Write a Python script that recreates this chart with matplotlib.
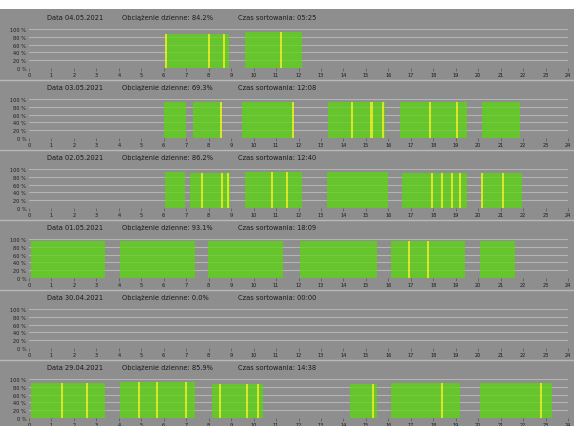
import matplotlib
matplotlib.use('Agg')
import matplotlib.pyplot as plt
from matplotlib.patches import Rectangle

# Daily headers
dates = ['04.05.2021', '03.05.2021', '02.05.2021', '01.05.2021', '30.04.2021', '29.04.2021']
loads = ['84.2%', '69.3%', '86.2%', '93.1%', '0.0%', '85.9%']
sort_times = ['05:25', '12:08', '12:40', '18:09', '00:00', '14:38']

# Working blocks per day (hour start, hour end, load %)
block_starts = [
    [6.1, 9.6],
    [6.0, 7.3, 9.5, 13.3, 16.5, 20.15],
    [6.05, 7.15, 9.6, 13.25, 16.6, 20.15],
    [0.1, 4.05, 7.95, 12.05, 16.1, 20.1],
    [],
    [0.1, 4.05, 8.15, 14.3, 16.1, 20.1],
]
block_ends = [
    [8.9, 12.15],
    [7.0, 8.6, 11.8, 15.85, 19.5, 21.85],
    [6.93, 8.95, 12.15, 16.0, 19.5, 21.95],
    [3.4, 7.4, 11.3, 15.5, 19.4, 21.65],
    [],
    [3.4, 7.4, 10.4, 15.5, 19.2, 23.3],
]
block_loads = [
    [88, 93],
    [92, 92, 92, 92, 92, 92],
    [92, 90, 92, 92, 90, 90],
    [96, 96, 96, 96, 96, 96],
    [],
    [90, 92, 88, 88, 90, 90],
]

# Lower-load (yellow) intervals, hour positions
yellow_hours = [
    [6.1, 8.0, 8.7, 11.2],
    [8.55, 11.75, 14.4, 15.25, 15.75, 17.85, 19.05],
    [7.7, 8.6, 8.85, 10.8, 11.5, 17.95, 18.4, 18.85, 19.2, 20.15, 21.1],
    [16.9, 17.75],
    [],
    [1.45, 2.6, 4.9, 5.7, 7.0, 8.5, 9.7, 10.2, 15.3, 18.4, 22.8],
]

hours = list(range(25))
pct_ticks = [0, 20, 40, 60, 80, 100]
pct_labels = ['0 %', '20 %', '40 %', '60 %', '80 %', '100 %']

W, H = 574, 427
bg = '#8e8e8e'
green = '#66c42c'
yellow = '#d8e626'

fig = plt.figure(figsize=(W / 100, H / 100), dpi=100)
fig.patch.set_facecolor('white')
fig.add_artist(Rectangle((0, 0), 1, 1 - 10 / H, transform=fig.transFigure,
                         facecolor=bg, edgecolor='none', zorder=0))

for i in range(6):
    bottom_px = 69 + 70 * i
    ax = fig.add_axes([29 / W, 1 - bottom_px / H, 539 / W, 39 / H])
    ax.set_facecolor(bg)
    ax.set_xlim(0, 24)
    ax.set_ylim(0, 100)
    for s in ax.spines.values():
        s.set_visible(False)
    ax.set_yticks(pct_ticks)
    ax.set_yticklabels(pct_labels, fontsize=3.6, color='#1a1a1a')
    ax.set_xticks(hours)
    ax.set_xticklabels([str(h) for h in hours], fontsize=3.6, color='#1a1a1a')
    ax.tick_params(axis='y', length=0, pad=2)
    ax.tick_params(axis='x', length=2, width=0.4, pad=1, color='#444444')
    ax.yaxis.grid(True, color='#acacac', linewidth=0.8)
    ax.set_axisbelow(True)

    for s, e, v in zip(block_starts[i], block_ends[i], block_loads[i]):
        ax.bar(s, v, width=e - s, align='edge', color=green, linewidth=0, zorder=2)
    for yh in yellow_hours[i]:
        v = 90
        for s, e, bv in zip(block_starts[i], block_ends[i], block_loads[i]):
            if s - 0.05 <= yh <= e + 0.05:
                v = bv
        ax.bar(yh, v, width=0.09, align='center', color=yellow, linewidth=0, zorder=3)
    # faint grid seen through the bars
    for p in pct_ticks[1:]:
        ax.axhline(p, color='white', alpha=0.12, linewidth=0.6, zorder=4)

    ty = 1 - (bottom_px - 51) / H
    fig.text(47 / W, ty, 'Data ' + dates[i], fontsize=4.8, color='#1a1a1a', va='center')
    fig.text(122 / W, ty, 'Obciążenie dzienne: ' + loads[i], fontsize=4.8, color='#1a1a1a', va='center')
    fig.text(238 / W, ty, 'Czas sortowania: ' + sort_times[i], fontsize=4.8, color='#1a1a1a', va='center')

    if i < 5:
        sep = 1 - (bottom_px + 12) / H
        fig.add_artist(plt.Line2D([0, 1], [sep, sep], transform=fig.transFigure,
                                  color='#b8b8b8', linewidth=1.0))

fig.savefig('out.png', dpi=100)
